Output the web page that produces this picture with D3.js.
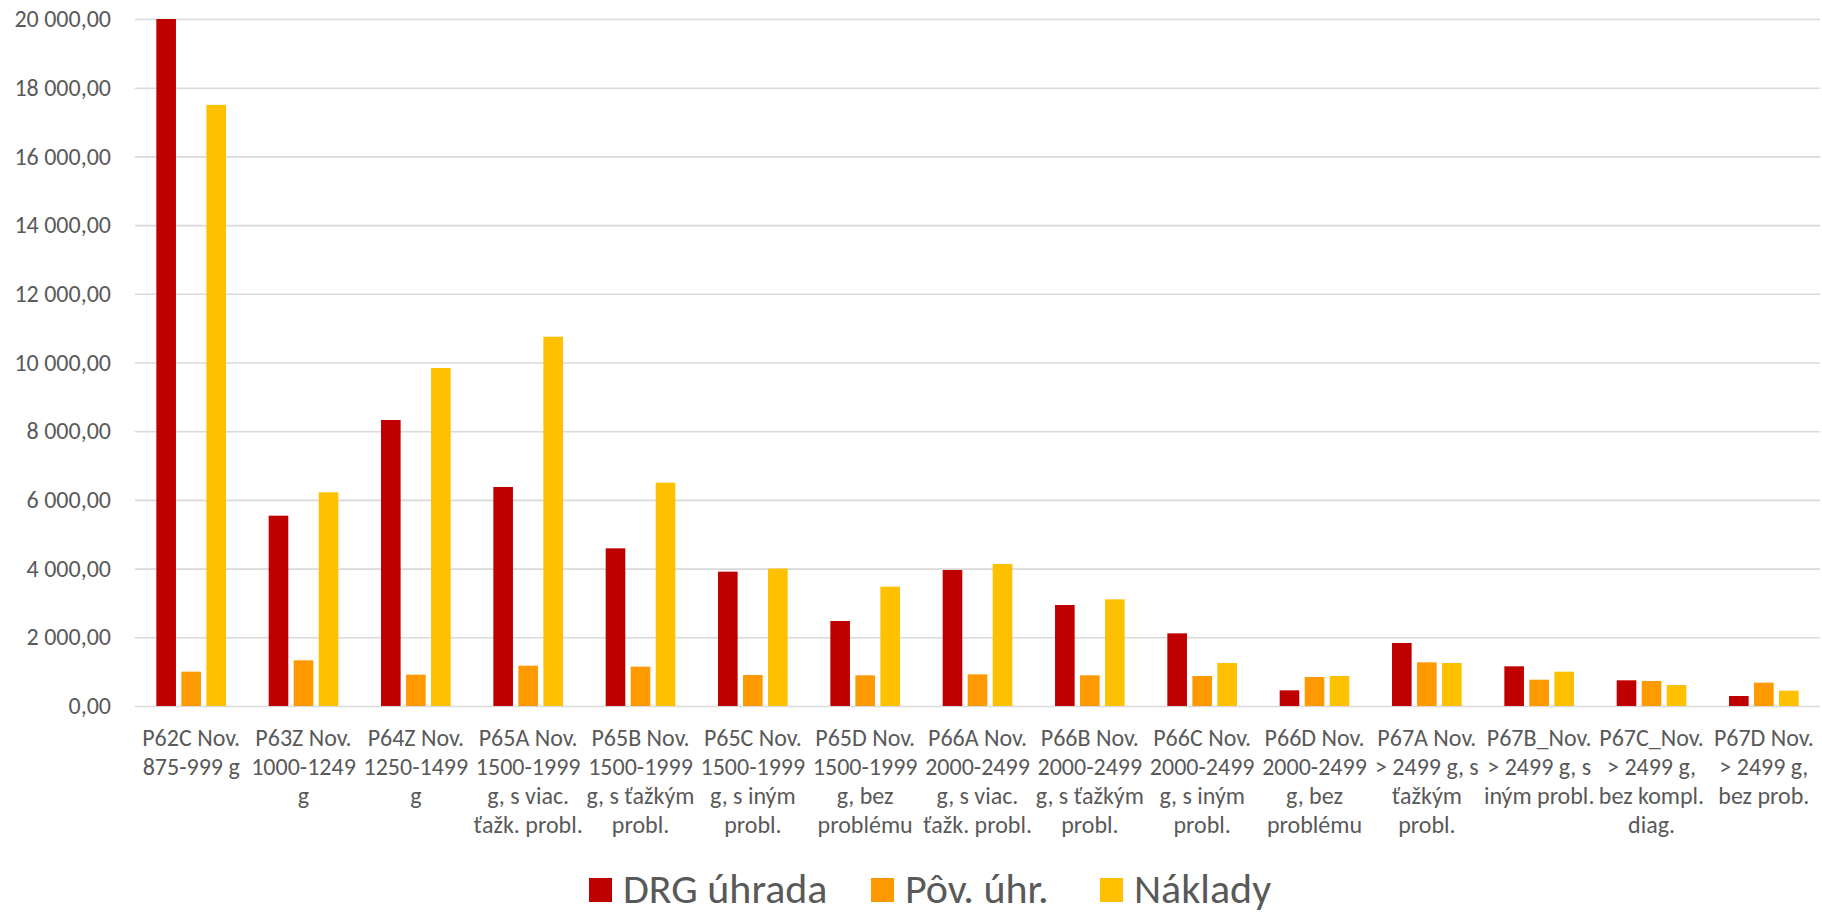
<!DOCTYPE html>
<html>
<head>
    <meta charset="utf-8">
    <script type="text/javascript" src="https://cdn.jsdelivr.net/npm/d3@7/dist/d3.min.js"></script>
    <style>
        body { margin: 0; background: #fff; }
        text { font-family: Calibri, Carlito, Lato, sans-serif; fill: #595959; }
    </style>
</head>
<body>
    <div id="viz"></div>
    <script type="text/javascript">

    // data

    var categories = ["P62C", "P63Z", "P64Z", "P65A", "P65B", "P65C", "P65D", "P66A",
                      "P66B", "P66C", "P66D", "P67A", "P67B", "P67C", "P67D"];

    // wrapped category labels, one entry per line
    var catLabels = [
        ["P62C Nov.", "875-999 g"],
        ["P63Z Nov.", "1000-1249", "g"],
        ["P64Z Nov.", "1250-1499", "g"],
        ["P65A Nov.", "1500-1999", "g, s viac.", "ťažk. probl."],
        ["P65B Nov.", "1500-1999", "g, s ťažkým", "probl."],
        ["P65C Nov.", "1500-1999", "g, s iným", "probl."],
        ["P65D Nov.", "1500-1999", "g, bez", "problému"],
        ["P66A Nov.", "2000-2499", "g, s viac.", "ťažk. probl."],
        ["P66B Nov.", "2000-2499", "g, s ťažkým", "probl."],
        ["P66C Nov.", "2000-2499", "g, s iným", "probl."],
        ["P66D Nov.", "2000-2499", "g, bez", "problému"],
        ["P67A Nov.", "> 2499 g, s", "ťažkým", "probl."],
        ["P67B_Nov.", "> 2499 g, s", "iným probl."],
        ["P67C_Nov.", "> 2499 g,", "bez kompl.", "diag."],
        ["P67D Nov.", "> 2499 g,", "bez prob."]
    ];

    var seriesNames = ["DRG úhrada", "Pôv. úhr.", "Náklady"];
    var seriesColors = ["#C00000", "#FF9900", "#FFC000"];

    var drgUhrada = [20000, 5540, 8326, 6376, 4590, 3911, 2475, 3959, 2940, 2115, 456, 1834, 1155, 748, 291];
    var povUhr    = [1000, 1330, 912, 1174, 1145, 902, 893, 922, 893, 873, 844, 1271, 766, 728, 679];
    var naklady   = [17500, 6220, 9840, 10751, 6502, 4000, 3474, 4134, 3105, 1252, 873, 1252, 999, 611, 446];

    var yTicks = [0, 2000, 4000, 6000, 8000, 10000, 12000, 14000, 16000, 18000, 20000];

    // layout
    var W = 1822, H = 913;
    var plotLeft = 135, plotRight = 1820;
    var plotTop = 19, plotBottom = 706;
    var legendX = [589, 871, 1100]; // left edge of each legend swatch

    var skFormat = d3.formatLocale({
        decimal: ",", thousands: "\u00a0", grouping: [3], currency: ["", ""]
    }).format(",.2f");

    function drawChart()
    {
        var svg = d3.select("#viz").append("svg")
            .attr("width", W)
            .attr("height", H);

        var y = d3.scaleLinear().domain([0, 20000]).range([plotBottom, plotTop]);

        var x0 = d3.scaleBand().domain(categories)
            .range([plotLeft, plotRight])
            .paddingInner(0.38)
            .paddingOuter(0.19);

        var x1 = d3.scaleBand().domain(seriesNames)
            .range([0, x0.bandwidth()])
            .paddingInner(0.216);

        // y axis with gridlines
        var yAxis = d3.axisLeft(y)
            .tickValues(yTicks)
            .tickSize(-(plotRight - plotLeft))
            .tickPadding(24)
            .tickFormat(skFormat);

        var gy = svg.append("g")
            .attr("transform", "translate(" + plotLeft + ",0)")
            .call(yAxis);
        gy.select(".domain").remove();
        gy.selectAll("line").attr("stroke", "#d9d9d9").attr("stroke-width", 1.6);
        gy.selectAll("text")
            .style("font-size", "24px")
            .attr("fill", "#595959");

        // bars
        var values = [drgUhrada, povUhr, naklady];
        var rows = categories.map(function (c, i) {
            return seriesNames.map(function (s, j) {
                return { cat: c, series: s, color: seriesColors[j], v: Math.min(values[j][i], 20000) };
            });
        });

        var groups = svg.append("g").selectAll("g")
            .data(rows)
            .join("g")
            .attr("transform", function (d) { return "translate(" + x0(d[0].cat) + ",0)"; });

        groups.selectAll("rect")
            .data(function (d) { return d; })
            .join("rect")
            .attr("x", function (d) { return x1(d.series); })
            .attr("width", x1.bandwidth())
            .attr("y", function (d) { return y(d.v); })
            .attr("height", function (d) { return y(0) - y(d.v); })
            .attr("fill", function (d) { return d.color; });

        // x axis, labels are multi-line so draw them by hand on the ticks
        var xAxis = d3.axisBottom(x0).tickSize(0).tickFormat("");
        var gx = svg.append("g")
            .attr("transform", "translate(0," + plotBottom + ")")
            .call(xAxis);
        gx.select(".domain").remove();

        gx.selectAll(".tick").each(function (d, i) {
            var t = d3.select(this).append("text")
                .attr("text-anchor", "middle")
                .attr("y", 40)
                .style("font-size", "24px")
                .attr("fill", "#595959");
            catLabels[i].forEach(function (line, k) {
                t.append("tspan")
                    .attr("x", 0)
                    .attr("dy", k == 0 ? 0 : 29)
                    .text(line);
            });
        });

        // legend
        var legend = svg.append("g").attr("transform", "translate(0,903)");
        seriesNames.forEach(function (s, j) {
            legend.append("rect")
                .attr("x", legendX[j])
                .attr("y", -25)
                .attr("width", 23)
                .attr("height", 24)
                .attr("fill", seriesColors[j]);
            legend.append("text")
                .attr("x", legendX[j] + 34)
                .attr("y", 0)
                .style("font-size", "42px")
                .attr("fill", "#595959")
                .text(s);
        });
    }

    drawChart();

    </script>
</body>
</html>
